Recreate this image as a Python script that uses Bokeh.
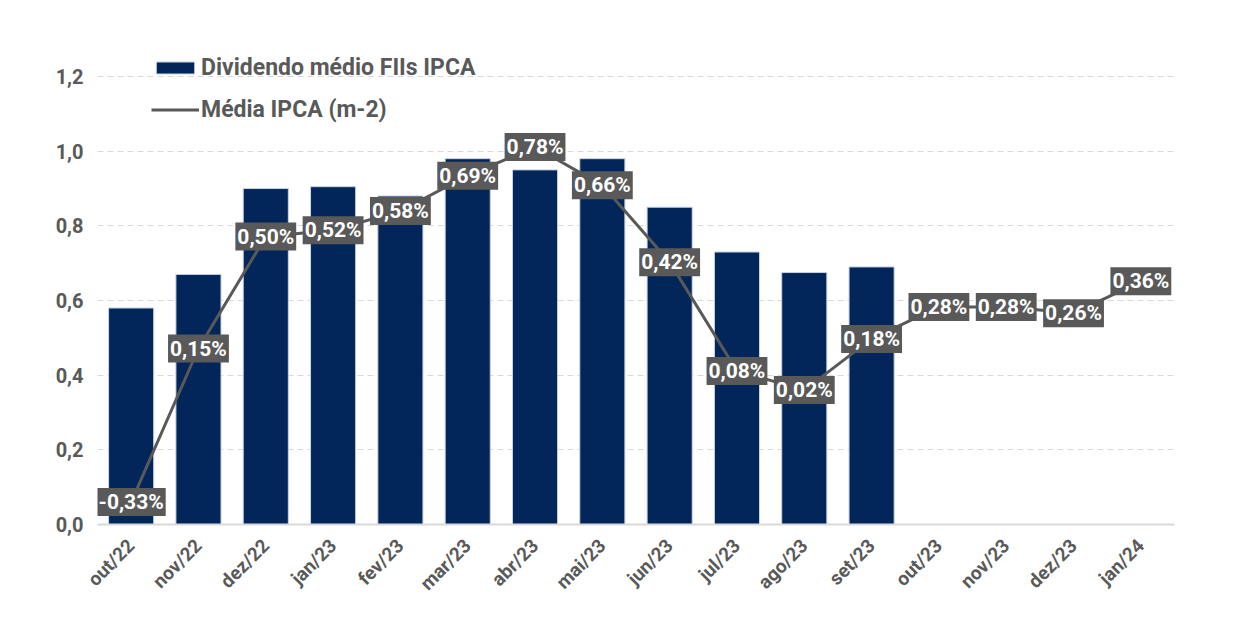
from bokeh.plotting import figure
from bokeh.models import (ColumnDataSource, Range1d, FixedTicker,
                          CustomJSTickFormatter, Legend, LegendItem, FactorRange)
from bokeh.core.properties import value
from bokeh.embed import file_html
from bokeh.resources import INLINE
import math

months = ["out/22", "nov/22", "dez/22", "jan/23", "fev/23", "mar/23", "abr/23", "mai/23",
          "jun/23", "jul/23", "ago/23", "set/23", "out/23", "nov/23", "dez/23", "jan/24"]
bar_months = months[:12]
dividendo = [0.58, 0.67, 0.90, 0.905, 0.88, 0.98, 0.95, 0.98, 0.85, 0.73, 0.675, 0.69]
ipca = [-0.33, 0.15, 0.50, 0.52, 0.58, 0.69, 0.78, 0.66, 0.42, 0.08, 0.02, 0.18,
        0.28, 0.28, 0.26, 0.36]
y_ticks = [0.0, 0.2, 0.4, 0.6, 0.8, 1.0, 1.2]

FONT = "Roboto"
GRAY = "#595959"
NAVY = "#03265A"

# extra headroom above the 1.2 gridline so the legend can sit above it
HEAD_PX = 27
FRAME_H = 447
y_top = 1.2 + HEAD_PX * 1.2 / FRAME_H
y2_top = 1.0 + HEAD_PX * 1.4 / FRAME_H

p = figure(x_range=FactorRange(*months, range_padding=0), y_range=Range1d(0, y_top),
           width=1230, height=626, output_backend="svg", toolbar_location=None,
           min_border_left=97, min_border_right=56, min_border_top=76 - HEAD_PX,
           min_border_bottom=102)
p.outline_line_color = None
p.background_fill_color = "white"
p.extra_y_ranges = {"ipca": Range1d(-0.4, y2_top)}

bar_src = ColumnDataSource(dict(x=bar_months, top=dividendo))
bars = p.vbar(x="x", top="top", width=0.67, source=bar_src, fill_color=NAVY,
              line_color="#c8d3e3", line_width=1)

lbl = [("%.2f%%" % v).replace(".", ",") for v in ipca]
line_src = ColumnDataSource(dict(x=months, y=ipca, lbl=lbl))
ln = p.line(x="x", y="y", source=line_src, y_range_name="ipca", line_color=GRAY, line_width=3)
p.text(x="x", y="y", text="lbl", source=line_src, y_range_name="ipca",
       text_align="center", text_baseline="middle", text_color="white",
       text_font=value(FONT), text_font_style="bold", text_font_size="21px",
       background_fill_color=GRAY, padding=2)

p.yaxis.ticker = FixedTicker(ticks=y_ticks)
p.yaxis.formatter = CustomJSTickFormatter(code="return tick.toFixed(1).replace('.', ',');")
p.yaxis.axis_line_color = None
p.yaxis.major_tick_line_color = None
p.yaxis.minor_tick_line_color = None
p.yaxis.major_label_text_font = FONT
p.yaxis.major_label_text_font_style = "bold"
p.yaxis.major_label_text_font_size = "20px"
p.yaxis.major_label_text_color = GRAY
p.yaxis.major_label_standoff = 8

p.xaxis.axis_line_color = "#d9d9d9"
p.xaxis.axis_line_width = 2
p.xaxis.major_tick_line_color = None
p.xaxis.minor_tick_line_color = None
p.xaxis.major_label_orientation = math.pi / 4
p.xaxis.major_label_text_font = FONT
p.xaxis.major_label_text_font_style = "bold"
p.xaxis.major_label_text_font_size = "19px"
p.xaxis.major_label_text_color = GRAY
p.xaxis.major_label_standoff = 12

p.xgrid.grid_line_color = None
p.ygrid.grid_line_color = "#d9d9d9"
p.ygrid.grid_line_dash = "6 4"
p.ygrid.grid_line_width = 1

legend = Legend(items=[LegendItem(label="Dividendo médio FIIs IPCA", renderers=[bars]),
                       LegendItem(label="Média IPCA (m-2)", renderers=[ln])],
                location=(54, 401), orientation="vertical",
                background_fill_alpha=0, border_line_color=None,
                label_text_font=FONT, label_text_font_style="bold",
                label_text_font_size="23px", label_text_color=GRAY,
                glyph_width=48, glyph_height=15, label_height=26, spacing=15,
                label_standoff=2, padding=0, margin=0)
p.add_layout(legend, "center")

open("out.html", "w").write(file_html(p, INLINE))
